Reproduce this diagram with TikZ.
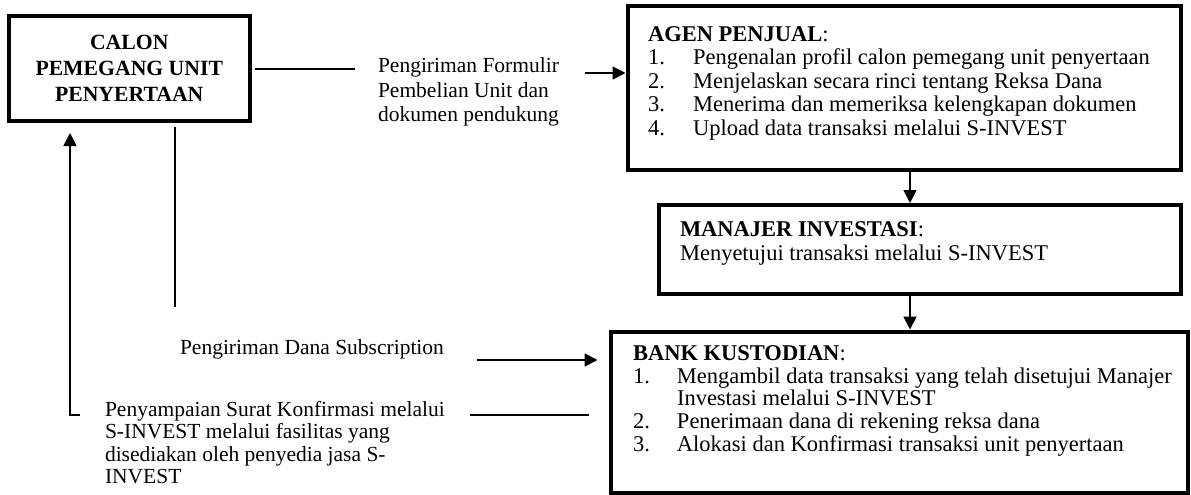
\documentclass[tikz,border=0pt]{standalone}
\usepackage{fontspec}
\setmainfont{Liberation Serif}
\usetikzlibrary{arrows.meta}
\begin{document}
\begin{tikzpicture}[x=1pt,y=-1pt,
  box/.style={draw, line width=4pt, inner sep=0pt, outer sep=0pt, anchor=north west},
  txt/.style={inner sep=0pt, outer sep=0pt, anchor=base west, align=left},
  conn/.style={line width=1.7pt},
  arr/.style={conn, -{Triangle[length=13pt,width=13pt]}}]
\useasboundingbox (0,0) rectangle (1191,495);

% boxes
\node[box, minimum width=240.5pt, minimum height=104.5pt, align=center,
      font=\fontsize{21.7}{26}\selectfont\bfseries] (calon) at (9,16)
  {CALON\\PEMEGANG UNIT\\PENYERTAAN};
\node[box, minimum width=553pt, minimum height=163.5pt] (agent) at (627.5,6.5) {};
\node[box, minimum width=522pt, minimum height=88.5pt] (mgr) at (658.5,205) {};
\node[box, minimum width=577.5pt, minimum height=161pt] (bank) at (610.5,331.5) {};

% texts (anchor = baseline of the last line)
\node[txt, font=\fontsize{21.5}{24}\selectfont] (formtxt) at (378,121)
  {Pengiriman Formulir\\Pembelian Unit dan\\dokumen pendukung};
\node[txt, font=\fontsize{22.5}{23.5}\selectfont] (agtxt) at (648,135)
  {\textbf{AGEN PENJUAL}:\\
   \makebox[45pt][l]{1.}Pengenalan profil calon pemegang unit penyertaan\\
   \makebox[45pt][l]{2.}Menjelaskan secara rinci tentang Reksa Dana\\
   \makebox[45pt][l]{3.}Menerima dan memeriksa kelengkapan dokumen\\
   \makebox[45pt][l]{4.}Upload data transaksi melalui S-INVEST};
\node[txt, font=\fontsize{22.5}{23.5}\selectfont] (mgtxt) at (680,260)
  {\textbf{MANAJER INVESTASI}:\\Menyetujui transaksi melalui S-INVEST};
\node[txt, font=\fontsize{22.5}{22.6}\selectfont] (bktxt) at (633,451)
  {\textbf{BANK KUSTODIAN}:\\
   \makebox[44pt][l]{1.}Mengambil data transaksi yang telah disetujui Manajer\\
   \hspace*{44pt}Investasi melalui S-INVEST\\
   \makebox[44pt][l]{2.}Penerimaan dana di rekening reksa dana\\
   \makebox[44pt][l]{3.}Alokasi dan Konfirmasi transaksi unit penyertaan};
\node[txt, font=\fontsize{21.5}{24}\selectfont] (subtxt) at (180,354)
  {Pengiriman Dana Subscription};
\node[txt, font=\fontsize{21.5}{22.5}\selectfont] (konf) at (105,483.5)
  {Penyampaian Surat Konfirmasi melalui\\S-INVEST melalui fasilitas yang\\disediakan oleh penyedia jasa S-\\INVEST};

% coordinates for free ends
\coordinate (f1) at (355,69);
\coordinate (a1) at (585,73);
\coordinate (dx) at (910,0);
\coordinate (s1) at (477,360);
\coordinate (p1) at (470,415);
\coordinate (b1) at (80,415);
\coordinate (bx) at (70,0);
\coordinate (v1) at (175,307);

% connectors
\draw[conn, shorten <=5.5pt] (calon.east |- f1) -- (f1);
\draw[arr, shorten >=2pt] (a1) -- (a1 -| agent.west);
\draw[arr, shorten >=2pt] (agent.south -| dx) -- (mgr.north -| dx);
\draw[arr, shorten >=2pt] (mgr.south -| dx) -- (bank.north -| dx);
\draw[arr, shorten >=13pt] (s1) -- (s1 -| bank.west);
\draw[conn, shorten <=22pt] (bank.west |- p1) -- (p1);
\draw[arr, shorten >=12.5pt] (b1) -- (b1 -| bx) -- (calon.south -| bx);
\draw[conn, shorten <=6.5pt] (calon.south -| v1) -- (v1);
\end{tikzpicture}
\end{document}
